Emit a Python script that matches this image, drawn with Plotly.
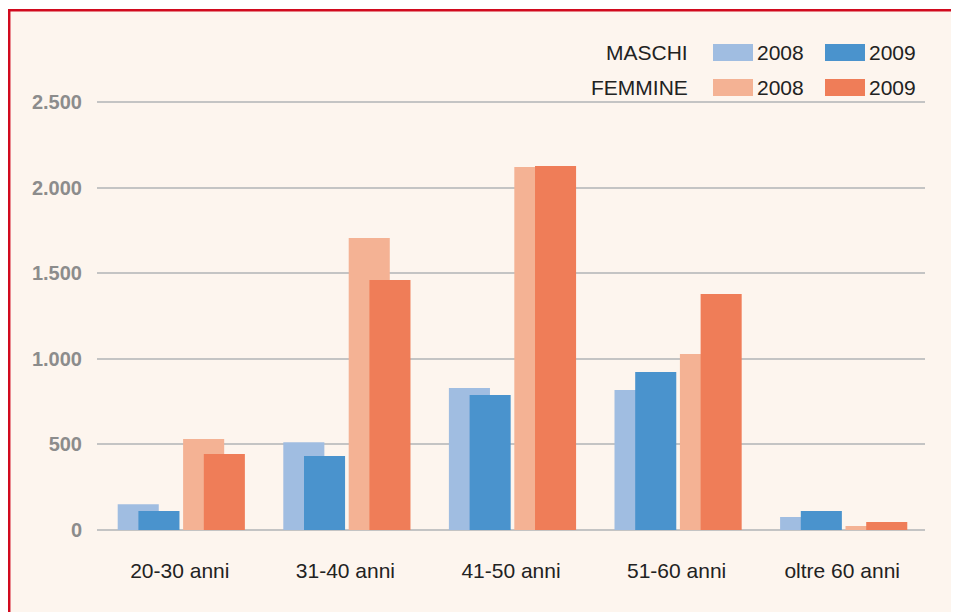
import plotly.graph_objects as go

categories = ["20-30 anni", "31-40 anni", "41-50 anni", "51-60 anni", "oltre 60 anni"]
maschi_2008 = [150, 512, 829, 818, 76]
maschi_2009 = [111, 432, 789, 923, 111]
femmine_2008 = [531, 1705, 2120, 1028, 23]
femmine_2009 = [444, 1460, 2126, 1378, 47]
y_ticks = [0, 500, 1000, 1500, 2000, 2500]
legend_rows = ["MASCHI", "FEMMINE"]
legend_years = ["2008", "2009"]

C_M08 = "#a0bde1"
C_M09 = "#4a93cd"
C_F08 = "#f4b294"
C_F09 = "#ef7d58"
BG = "#fdf5ee"
RED = "#d10a1e"

# page places the figure at (8, 8) because of the default body margin
OFF = 8
W, H = 959 - OFF, 612 - OFF
L, R, T, B = 97 - OFF, 34, 51 - OFF, 82
PW, PH = W - L - R, H - T - B

def px_x(px):
    return (px - OFF - L) / PW

def px_y(py):
    return (H - B - (py - OFF)) / PH

fig = go.Figure()
series = [
    ("MASCHI 2008", maschi_2008, C_M08, -0.375),
    ("MASCHI 2009", maschi_2009, C_M09, -0.25),
    ("FEMMINE 2008", femmine_2008, C_F08, 0.02),
    ("FEMMINE 2009", femmine_2009, C_F09, 0.145),
]
for name, vals, col, off in series:
    fig.add_trace(go.Bar(
        x=categories, y=vals, name=name, marker=dict(color=col, line=dict(width=0)),
        width=0.248, offset=off, showlegend=False,
    ))

shapes = [dict(
    type="rect", xref="paper", yref="paper",
    x0=px_x(9.2), x1=px_x(985), y0=px_y(10.2), y1=px_y(640),
    fillcolor=BG, line=dict(color=RED, width=2.5), layer="below",
)]
annotations = []
colors = [[C_M08, C_M09], [C_F08, C_F09]]
row_y = [52.5, 87.5]
sw_x = [713, 825]
for ri, lab in enumerate(legend_rows):
    cy = row_y[ri]
    annotations.append(dict(
        x=px_x(690), y=px_y(cy), xref="paper", yref="paper", text=lab,
        showarrow=False, xanchor="right", yanchor="middle",
        font=dict(family="Liberation Sans, Arial", size=21, color="#222222"),
    ))
    for ci, yr in enumerate(legend_years):
        x0 = sw_x[ci]
        shapes.append(dict(
            type="rect", xref="paper", yref="paper",
            x0=px_x(x0), x1=px_x(x0 + 40), y0=px_y(cy + 8.5), y1=px_y(cy - 8.5),
            fillcolor=colors[ri][ci], line=dict(width=0),
        ))
        annotations.append(dict(
            x=px_x(x0 + 42), y=px_y(cy), xref="paper", yref="paper", text=yr,
            showarrow=False, xanchor="left", yanchor="middle",
            font=dict(family="Liberation Sans, Arial", size=21, color="#222222"),
        ))

fig.update_layout(
    width=W, height=H,
    margin=dict(l=L, r=R, t=T, b=B, pad=0),
    paper_bgcolor="#ffffff",
    plot_bgcolor=BG,
    barmode="overlay",
    separators=",.",
    shapes=shapes,
    annotations=annotations,
    xaxis=dict(
        type="category", range=[-0.5, 4.5], showgrid=False, zeroline=False,
        showline=False, ticks="", ticklabelstandoff=26,
        tickfont=dict(family="Liberation Sans, Arial", size=21, color="#222222"),
    ),
    yaxis=dict(
        range=[0, PH / 0.1712], tickvals=y_ticks, tickformat=",d",
        showgrid=True, gridcolor="#c4c4c4", gridwidth=2,
        zeroline=True, zerolinecolor="#c4c4c4", zerolinewidth=2,
        showline=False, ticks="", ticklabelstandoff=14,
        tickfont=dict(family="Liberation Sans, Arial", size=20, color="#8c8c8c", weight="bold"),
    ),
)

fig.write_html("out.html")
